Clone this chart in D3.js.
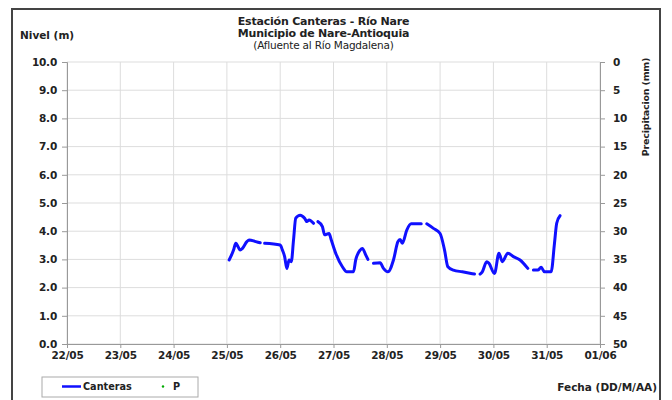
<!DOCTYPE html>
<html><head><meta charset="utf-8">
<script src="https://cdn.jsdelivr.net/npm/d3@7"></script>
<style>
body{margin:0;background:#fff;}
svg text{font-family:"DejaVu Sans",sans-serif;font-weight:bold;fill:#222;}
</style></head>
<body>
<svg id="c" width="672" height="400"></svg>
<script>
// Data: time (dd/mm HH:MM) and water level (m); null = gap
const times = ["25/05 01:00","25/05 03:00","25/05 04:00","25/05 06:00","25/05 07:00","25/05 09:00","25/05 10:00","25/05 13:00","25/05 15:00",null,
"25/05 17:00","26/05 00:00","26/05 01:00","26/05 02:00","26/05 03:00","26/05 04:00","26/05 05:00","26/05 06:00","26/05 07:00","26/05 09:00","26/05 11:00","26/05 12:00","26/05 13:00","26/05 15:00",null,
"26/05 17:00","26/05 19:00","26/05 20:00","26/05 22:00","26/05 23:00","27/05 01:00","27/05 04:00","27/05 06:00","27/05 09:00","27/05 10:00","27/05 12:00","27/05 13:00","27/05 14:30","27/05 15:30",null,
"27/05 18:00","27/05 21:00","27/05 22:30","28/05 00:30","28/05 03:00","28/05 05:00","28/05 06:00","28/05 07:00","28/05 09:00","28/05 11:00","28/05 15:30",null,
"28/05 18:00","28/05 21:00","29/05 00:00","29/05 02:00","29/05 03:30","29/05 06:00","29/05 10:00","29/05 15:30",null,
"29/05 18:00","29/05 19:00","29/05 21:00","29/05 22:00","30/05 00:30","30/05 02:30","30/05 04:00","30/05 06:30","30/05 09:00","30/05 12:00","30/05 15:30",null,
"30/05 18:00","30/05 20:00","30/05 21:30","30/05 23:00","31/05 02:00","31/05 03:30","31/05 04:30","31/05 06:00"];
const levels = [2.98,3.33,3.57,3.33,3.39,3.63,3.69,3.63,3.59,null,
3.57,3.51,3.33,3.10,2.68,2.98,2.92,3.69,4.46,4.57,4.46,4.34,4.40,4.28,null,
4.34,4.16,3.87,3.92,3.69,3.22,2.74,2.56,2.56,2.98,3.33,3.39,3.16,3.00,null,
2.86,2.88,2.68,2.56,2.98,3.63,3.71,3.57,4.04,4.26,4.26,null,
4.26,4.10,3.92,3.33,2.74,2.62,2.56,2.48,null,
2.48,2.56,2.92,2.86,2.50,3.22,2.92,3.22,3.10,2.98,2.68,null,
2.62,2.62,2.72,2.56,2.56,3.57,4.28,4.55];
const xTickLabels = ["22/05","23/05","24/05","25/05","26/05","27/05","28/05","29/05","30/05","31/05","01/06"];
const yTicks = [0,1,2,3,4,5,6,7,8,9,10];
const precipTicks = [0,5,10,15,20,25,30,35,40,45,50];
const titleLines = ["Estación Canteras - Río Nare","Municipio de Nare-Antioquia","(Afluente al Río Magdalena)"];

const parse = d3.timeParse("%d/%m %H:%M");
const parseDay = d3.timeParse("%d/%m");
const data = times.map((t,i)=>({t: t?parse(t):null, v: levels[i]}));
const tickDates = xTickLabels.map(s=>parseDay(s));

const svg = d3.select("#c");
const L=67,R=600,T=62,B=344;
const x = d3.scaleTime().domain([tickDates[0], tickDates[tickDates.length-1]]).range([L,R]);
const y = d3.scaleLinear().domain([0,10]).range([B,T]);
const yp = d3.scaleLinear().domain([0,50]).range([T,B]);

// frame
svg.append("rect").attr("x",12).attr("y",9).attr("width",648).attr("height",396)
  .attr("fill","none").attr("stroke","#444").attr("stroke-width",2);

// grid
const g = svg.append("g");
g.selectAll(".hg").data(yTicks).join("line").attr("x1",L).attr("x2",R)
  .attr("y1",d=>y(d)).attr("y2",d=>y(d)).attr("stroke","#ddd").attr("stroke-width",1);
g.selectAll(".vg").data(tickDates).join("line").attr("y1",T).attr("y2",B)
  .attr("x1",d=>x(d)).attr("x2",d=>x(d)).attr("stroke","#ddd").attr("stroke-width",1);

// axes
const fs = "10.5px";
const ax = svg.append("g").attr("transform",`translate(${L},0)`)
  .call(d3.axisLeft(y).tickValues(yTicks).tickFormat(d3.format(".1f")).tickSize(5).tickPadding(5));
const ar = svg.append("g").attr("transform",`translate(${R},0)`)
  .call(d3.axisRight(yp).tickValues(precipTicks).tickSize(5).tickPadding(8));
const axb = svg.append("g").attr("transform",`translate(0,${B})`)
  .call(d3.axisBottom(x).tickValues(tickDates).tickFormat((d,i)=>xTickLabels[i]).tickSize(4).tickPadding(4));
[ax,ar,axb].forEach(a=>{
  a.selectAll("path,line").attr("stroke","#999");
  a.selectAll("text").style("font-size",fs).style("letter-spacing","-0.2px").attr("fill","#222");
});

// line
const line = d3.line().defined(d=>d.v!==null && d.t!==null).x(d=>x(d.t)).y(d=>y(d.v)).curve(d3.curveMonotoneX);
svg.append("path").datum(data).attr("d",line).attr("fill","none")
  .attr("stroke","#1010ff").attr("stroke-width",3).attr("stroke-linejoin","round").attr("stroke-linecap","round");

// titles
svg.selectAll(".tt").data(titleLines).join("text")
  .attr("x",323.5).attr("y",(d,i)=>25+i*12).attr("text-anchor","middle")
  .style("font-size",(d,i)=>i<2?"11px":"10.5px").style("letter-spacing","-0.2px")
  .style("font-weight",(d,i)=>i<2?"bold":"normal").text(d=>d);
svg.append("text").attr("x",20).attr("y",39).style("font-size","10.5px").text("Nivel (m)");
svg.append("text").attr("transform","translate(649,107) rotate(-90)").attr("text-anchor","middle")
  .style("font-size","9.5px").style("letter-spacing","-0.2px").text("Precipitacion (mm)");
svg.append("text").attr("x",657).attr("y",391).attr("text-anchor","end")
  .style("font-size","10.5px").text("Fecha (DD/M/AA)");

// legend
const lg = svg.append("g");
lg.append("rect").attr("x",42).attr("y",377).attr("width",156).attr("height",20)
  .attr("fill","#fff").attr("stroke","#aaa");
lg.append("line").attr("x1",62).attr("x2",81).attr("y1",386.5).attr("y2",386.5).attr("stroke","#1010ff").attr("stroke-width",2.5);
lg.append("text").attr("x",83).attr("y",390).style("font-size","9.7px").text("Canteras");
lg.append("circle").attr("cx",163).attr("cy",386.5).attr("r",1.2).attr("fill","#0a0");
lg.append("text").attr("x",173).attr("y",390).style("font-size","9.7px").text("P");
</script>
</body></html>
